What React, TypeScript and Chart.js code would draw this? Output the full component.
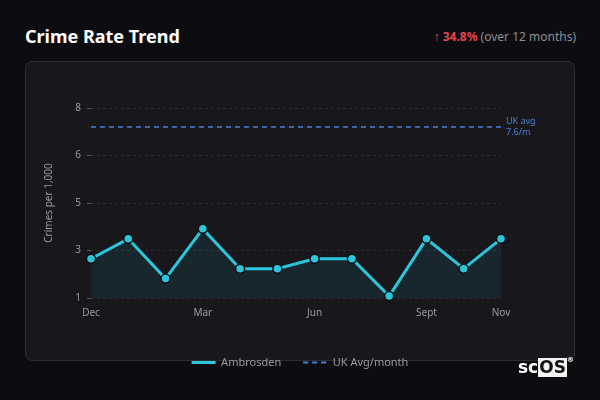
import { useEffect, useRef } from 'react';
import Chart from 'chart.js/auto';

const months = ['Dec', 'Jan', 'Feb', 'Mar', 'Apr', 'May', 'Jun', 'Jul', 'Aug', 'Sept', 'Oct', 'Nov'];
const shownMonths = ['Dec', 'Mar', 'Jun', 'Sept', 'Nov'];
const ambrosden = [2.3, 3.1, 1.5, 3.5, 1.9, 1.9, 2.3, 2.3, 0.8, 3.1, 1.9, 3.1];
const ukAvg = [7.6, 7.6, 7.6, 7.6, 7.6, 7.6, 7.6, 7.6, 7.6, 7.6, 7.6, 7.6];
const ukAvgLabel = ['UK avg', '7.6/m'];
const yRange = [0.72, 8.36];

const FONT = '"Noto Sans", "Open Sans", sans-serif';

const ukLabelPlugin = {
  id: 'ukLabel',
  afterDatasetsDraw(chart: any) {
    const { ctx, chartArea, scales } = chart;
    const y = scales.y.getPixelForValue(ukAvg[0]);
    ctx.save();
    ctx.fillStyle = '#4a7fd6';
    ctx.font = `9px ${FONT}`;
    ctx.textBaseline = 'middle';
    ctx.fillText(ukAvgLabel[0], chartArea.right + 5, y - 5);
    ctx.fillText(ukAvgLabel[1], chartArea.right + 5, y + 6);
    ctx.restore();
  },
};

const CrimeChart = () => {
  const chartRef = useRef<HTMLCanvasElement>(null);

  useEffect(() => {
    const ctx = chartRef.current?.getContext('2d');
    if (!ctx) return;

    const chartInstance = new Chart(ctx, {
      type: 'line',
      data: {
        labels: months,
        datasets: [
          {
            label: 'Ambrosden',
            data: ambrosden,
            borderColor: '#2cc6dc',
            backgroundColor: 'rgba(44, 198, 220, 0.09)',
            borderWidth: 3,
            fill: 'start',
            tension: 0,
            pointRadius: 4.5,
            pointBackgroundColor: '#2cc6dc',
            pointBorderColor: '#101014',
            pointBorderWidth: 1.5,
            clip: false,
          },
          {
            label: 'UK Avg/month',
            data: ukAvg,
            borderColor: '#4a7fd6',
            borderWidth: 1.5,
            borderDash: [5, 4],
            pointRadius: 0,
            fill: false,
          },
        ],
      },
      options: {
        animation: false,
        responsive: true,
        maintainAspectRatio: false,
        layout: { padding: { top: 47, left: 0, right: 0, bottom: 1 } },
        plugins: {
          tooltip: { enabled: false },
          legend: {
            position: 'bottom',
            labels: {
              usePointStyle: true,
              pointStyle: 'line',
              pointStyleWidth: 24,
              boxHeight: 10,
              color: '#9a9aa2',
              padding: 22,
              font: { family: FONT, size: 11 },
              generateLabels: (chart: any) => {
                const items = Chart.defaults.plugins.legend.labels.generateLabels(chart);
                return items.map((item: any, i: number) => {
                  const ds: any = chart.data.datasets[i];
                  return {
                    ...item,
                    strokeStyle: ds.borderColor,
                    fillStyle: ds.borderColor,
                    lineWidth: i === 0 ? 3 : 2,
                    lineDash: ds.borderDash || [],
                    pointStyle: 'line',
                  };
                });
              },
            },
          },
        },
        scales: {
          y: {
            min: yRange[0],
            max: yRange[1],
            afterFit: (scale: any) => {
              scale.width = 66;
            },
            ticks: {
              count: 5,
              color: '#9a9aa2',
              padding: 6,
              font: { family: FONT, size: 10 },
              callback: (value) => String(Math.round(Number(value))),
            },
            title: {
              display: true,
              text: 'Crimes per 1,000',
              color: '#9a9aa2',
              padding: { top: 18, bottom: 4 },
              font: { family: FONT, size: 10 },
            },
            grid: {
              color: '#2b2b31',
              tickColor: '#55555c',
              tickLength: 4,
            },
            border: { display: false, dash: [3, 3] },
          },
          // empty right-hand axis keeps room for the UK avg note
          y2: {
            position: 'right',
            min: yRange[0],
            max: yRange[1],
            afterFit: (scale: any) => {
              scale.width = 74;
            },
            ticks: { display: false },
            grid: { display: false },
            border: { display: false },
          },
          x: {
            afterFit: (scale: any) => {
              scale.height = 37;
            },
            ticks: {
              autoSkip: false,
              maxRotation: 0,
              color: '#9a9aa2',
              padding: 1,
              font: { family: FONT, size: 10 },
              callback: (_v, i) => (shownMonths.includes(months[i]) ? months[i] : ''),
            },
            grid: { display: false },
            border: { display: false },
          },
        },
      },
      plugins: [ukLabelPlugin],
    });

    return () => chartInstance.destroy();
  }, []);

  return (
    <div style={{ position: 'absolute', left: 25, top: 61, width: 550, height: 318 }}>
      <canvas ref={chartRef} />
    </div>
  );
};

export default function App() {
  return (
    <div
      style={{
        position: 'fixed',
        inset: 0,
        width: 600,
        height: 400,
        background: '#0d0d11',
        fontFamily: FONT,
        overflow: 'hidden',
      }}
    >
      <div style={{ position: 'absolute', left: 25, top: 24, color: '#ffffff', fontSize: 18, fontWeight: 700 }}>
        Crime Rate Trend
      </div>
      <div style={{ position: 'absolute', right: 24, top: 28, fontSize: 12, color: '#8e8e96' }}>
        <span style={{ color: '#e0474c' }}>↑ </span>
        <span style={{ color: '#e0474c', fontWeight: 700 }}>34.8%</span> (over 12 months)
      </div>
      <div
        style={{
          position: 'absolute',
          left: 25,
          top: 61,
          width: 548,
          height: 298,
          background: '#17171c',
          border: '1px solid #2c2c33',
          borderRadius: 7,
        }}
      />
      <CrimeChart />
      <div
        style={{
          position: 'absolute',
          left: 518,
          top: 358,
          display: 'flex',
          alignItems: 'flex-start',
          fontFamily: '"DejaVu Sans", sans-serif',
          fontWeight: 700,
          fontSize: 17,
          lineHeight: '19px',
        }}
      >
        <span style={{ color: '#ffffff' }}>sc</span>
        <span style={{ background: '#f2f2f2', color: '#111', padding: '0 1px' }}>OS</span>
        <span style={{ color: '#ffffff', fontSize: 7, lineHeight: '8px', marginTop: -2 }}>®</span>
      </div>
    </div>
  );
}
